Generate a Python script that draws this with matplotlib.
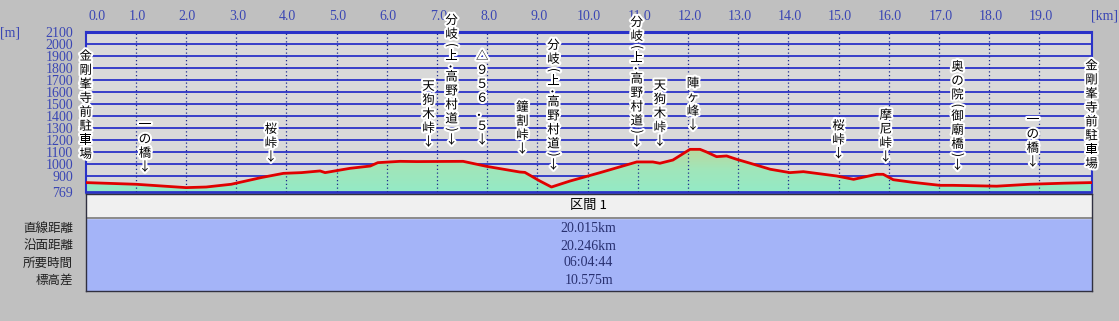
import numpy as np
import matplotlib.pyplot as plt
import matplotlib.patheffects as pe
from matplotlib.colors import LinearSegmentedColormap

plt.rcParams['font.family'] = ['Noto Sans CJK JP', 'DejaVu Sans']

# =========================
# データ（距離 km / 標高 m）
# =========================
dist_km = [0.0, 0.5, 1.0, 1.5, 2.0, 2.4, 2.9, 3.5, 3.94, 4.3, 4.67, 4.77, 5.27,
           5.67, 5.82, 6.26, 6.6, 7.52, 7.99, 8.65, 8.75, 9.05, 9.28, 9.65,
           10.25, 10.98, 11.3, 11.44, 11.7, 12.04, 12.24, 12.37, 12.57, 12.77,
           12.97, 13.24, 13.64, 14.03, 14.3, 14.96, 15.3, 15.76, 15.89, 16.09,
           16.48, 17.02, 17.28, 18.15, 18.81, 19.5, 20.04]
elev_m = [845, 838, 831, 817, 803, 808, 831, 887, 922, 928, 942, 928, 964,
          983, 1011, 1022, 1020, 1022, 980, 933, 930, 858, 808, 858,
          928, 1017, 1017, 1006, 1033, 1122, 1122, 1100, 1061, 1067,
          1039, 1006, 956, 928, 936, 900, 872, 914, 914, 869,
          847, 822, 822, 815, 831, 840, 845]

y_min, y_max = 769, 2100
x_max = 20.04
y_ticks = [769] + list(range(900, 2101, 100))
x_ticks = list(range(0, 20))

# 地点名（縦書き）: 距離, 矢印下端の標高, 文字列
pt_dist = [0.0, 1.18, 3.69, 6.83, 7.29, 7.90, 8.70, 9.32, 10.98, 11.44,
           12.10, 15.00, 15.94, 17.37, 18.87, 20.04]
pt_elev = [1022, 914, 997, 1122, 1139, 1139, 1064, 931, 1122, 1128,
           1262, 1025, 997, 928, 956, 942]
pt_name = ["金剛峯寺前駐車場", "一の橋↓", "桜峠↓", "天狗木峠↓",
           "分岐(上・高野村道)↓", "△９５６．５↓", "鐘割峠↓",
           "分岐(上・高野村道)↓", "分岐(上・高野村道)↓", "天狗木峠↓",
           "陣ヶ峰↓", "桜峠↓", "摩尼峠↓", "奥の院(御廟橋)↓", "一の橋↓",
           "金剛峯寺前駐車場"]

row_names = ["直線距離", "沿面距離", "所要時間", "標高差"]
row_values = ["20.015km", "20.246km", "06:04:44", "10.575m"]
section_name = "区間 1"

# =========================
# 図
# =========================
W, H = 1119, 321
fig = plt.figure(figsize=(W / 100, H / 100), dpi=100, facecolor='#c0c0c0')

def fx(px):
    return px / W

def fy(py):
    return 1 - py / H

num_font = 'Liberation Serif'
blue_txt = '#3a46b4'

ax = fig.add_axes([fx(85.7), fy(191.7), fx(1091.5) - fx(85.7), fy(32) - fy(191.7)])
ax.set_facecolor('#d9d9d9')
ax.set_xlim(0, x_max)
ax.set_ylim(y_min, y_max)

# 横線
for y in range(900, 2101, 100):
    ax.axhline(y, color='#2a32c8', lw=1.3, zorder=1)

# 塗りつぶし（グラデーション）
cmap = LinearSegmentedColormap.from_list('g', ['#94eac6', '#a0e6ba', '#bed69a'])
grad = np.linspace(0, 1, 256).reshape(-1, 1)
im = ax.imshow(grad, extent=[0, x_max, y_min, 1140], origin='lower',
               aspect='auto', cmap=cmap, zorder=2)
poly = ax.fill_between(dist_km, elev_m, y_min, color='none', lw=0)
im.set_clip_path(poly.get_paths()[0], transform=ax.transData)
ax.set_ylim(y_min, y_max)
ax.set_xlim(0, x_max)

# 縦の点線
for k in x_ticks[1:]:
    ax.axvline(k, color='#1c2a90', lw=0.9, ls=(0, (1, 2)), zorder=3)

ax.plot(dist_km, elev_m, color='#e00000', lw=2.0, zorder=4, solid_joinstyle='round')

for s in ax.spines.values():
    s.set_color('#2a32c8')
    s.set_linewidth(1.5)
ax.spines['top'].set_linewidth(2.2)
ax.spines['bottom'].set_linewidth(2.0)

ax.set_xticks([])
ax.set_yticks(y_ticks)
ax.set_yticklabels([str(v) for v in y_ticks], fontfamily=num_font, fontsize=10,
                   color=blue_txt)
ax.tick_params(axis='y', length=0, pad=9)

# 上の距離目盛
for k in x_ticks:
    if k == 0:
        ax.annotate(f"{k}.0", xy=(k, 1), xycoords=('data', 'axes fraction'),
                    xytext=(2, 11), textcoords='offset points', ha='left', va='center',
                    fontfamily=num_font, fontsize=10, color=blue_txt, annotation_clip=False)
    else:
        ax.annotate(f"{k}.0", xy=(k, 1), xycoords=('data', 'axes fraction'),
                    xytext=(1, 11), textcoords='offset points', ha='center', va='center',
                    fontfamily=num_font, fontsize=10, color=blue_txt, annotation_clip=False)

fig.text(fx(10), fy(33), "[m]", fontfamily=num_font, fontsize=10, color=blue_txt,
         ha='center', va='center')
fig.text(fx(1105), fy(16), "[km]", fontfamily=num_font, fontsize=10, color=blue_txt,
         ha='center', va='center')

# 縦書きラベル（1文字ずつ配置、括弧と中点は回転して縦書き風に）
rotated = {'(': ('(', -90), ')': (')', -90), '・': ('·', 90)}
halo = [pe.withStroke(linewidth=3, foreground='white')]
lab_size = 9

for d, e, name in zip(pt_dist, pt_elev, pt_name):
    off = 0.0
    for ch in reversed(name):
        if ch in rotated:
            glyph, rot = rotated[ch]
            h = 7.3
        else:
            glyph, rot = ch, 0
            h = 14.0
        off += h / 2
        ax.annotate(glyph, xy=(d, e), xytext=(0, off * 0.72), textcoords='offset points',
                    ha='center', va='center', fontsize=lab_size, rotation=rot,
                    color='black', path_effects=halo, zorder=6, annotation_clip=False)
        off += h / 2

# =========================
# 下の表
# =========================
tb = fig.add_axes([fx(85.7), fy(291), fx(1091.5) - fx(85.7), fy(194) - fy(291)])
tb.set_xlim(0, 1)
tb.set_ylim(97, 0)
tb.set_facecolor('#a4b4f8')
tb.axhspan(0, 24, color='#f0f0f0', zorder=1)
tb.axhline(24, color='#7a7a7a', lw=1.2, zorder=2)
tb.set_xticks([])
tb.set_yticks([])
for s in tb.spines.values():
    s.set_color('#303040')
    s.set_linewidth(1.0)

tb.text(0.5, 12, section_name, ha='center', va='center', fontsize=9.5, color='black')
row_y = [34, 52, 69, 86]
for y, nm, val in zip(row_y, row_names, row_values):
    tb.text(0.5, y, val, ha='center', va='center', fontfamily=num_font,
            fontsize=10, color='#283070')
    tb.text(-0.0125, y, nm, ha='right', va='center', fontsize=9, color='#202020',
            clip_on=False)

fig.savefig('out.png', dpi=100, facecolor=fig.get_facecolor())
